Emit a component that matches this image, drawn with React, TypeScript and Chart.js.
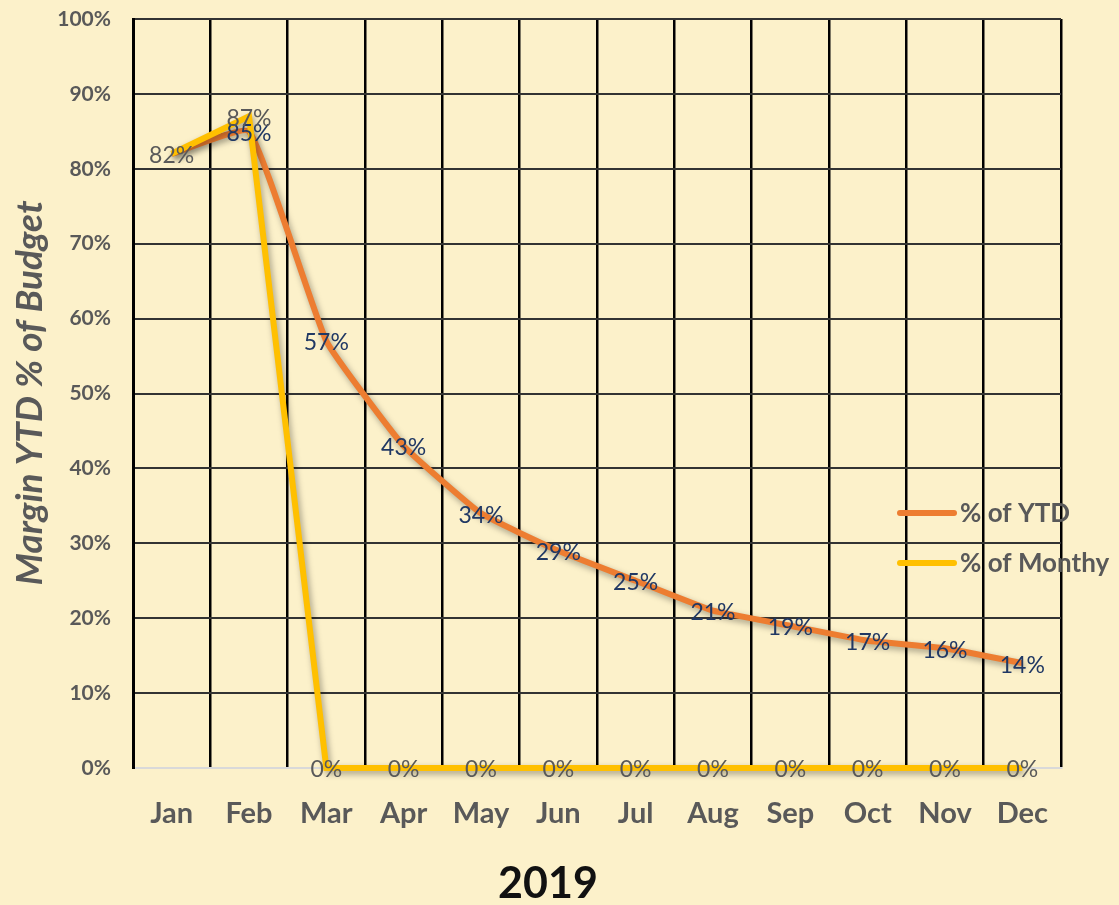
import React, { useEffect, useRef } from "react";
import { Chart, registerables } from "chart.js";

Chart.register(...registerables);

const months = ["Jan", "Feb", "Mar", "Apr", "May", "Jun", "Jul", "Aug", "Sep", "Oct", "Nov", "Dec"];
const ytdValues = [82, 85, 57, 43, 34, 29, 25, 21, 19, 17, 16, 14];
const monthlyValues = [82, 87, 0, 0, 0, 0, 0, 0, 0, 0, 0, 0];
const seriesNames = ["% of YTD", "% of Monthy"];
const yAxisTitle = "Margin YTD % of Budget";
const xAxisTitle = "2019";

const BG = "#FCF1CA";
const ORANGE = "#ED7D31";
const YELLOW = "#FFC000";
const GRAY = "#595959";
const BLUE = "#203864";
const FONT = "Lato, 'Open Sans', sans-serif";

const shadowPlugin = {
  id: "lineShadow",
  beforeDatasetDraw(chart: any) {
    const ctx = chart.ctx;
    ctx.save();
    ctx.shadowColor = "rgba(0,0,0,0.35)";
    ctx.shadowBlur = 6;
    ctx.shadowOffsetX = 2;
    ctx.shadowOffsetY = 3;
  },
  afterDatasetDraw(chart: any) {
    chart.ctx.restore();
  },
};

const labelsPlugin = {
  id: "valueLabels",
  afterDatasetsDraw(chart: any) {
    const ctx = chart.ctx;
    ctx.save();
    ctx.font = `23px ${FONT}`;
    ctx.textAlign = "center";
    ctx.textBaseline = "middle";
    const ytdMeta = chart.getDatasetMeta(0);
    const monMeta = chart.getDatasetMeta(1);
    ytdMeta.data.forEach((pt: any, i: number) => {
      if (ytdValues[i] === monthlyValues[i]) return;
      ctx.fillStyle = BLUE;
      ctx.fillText(`${ytdValues[i]}%`, pt.x, pt.y + 2);
    });
    monMeta.data.forEach((pt: any, i: number) => {
      ctx.fillStyle = GRAY;
      ctx.fillText(`${monthlyValues[i]}%`, pt.x, pt.y + 2);
    });
    ctx.restore();
  },
};

const decorPlugin = {
  id: "decor",
  beforeDraw(chart: any) {
    const ctx = chart.ctx;
    ctx.save();
    ctx.fillStyle = BG;
    ctx.fillRect(0, 0, chart.width, chart.height);
    ctx.restore();
  },
  afterDraw(chart: any) {
    const ctx = chart.ctx;
    ctx.save();
    ctx.translate(30, 393);
    ctx.rotate(-Math.PI / 2);
    ctx.font = `italic bold 37px ${FONT}`;
    ctx.fillStyle = GRAY;
    ctx.textAlign = "center";
    ctx.textBaseline = "middle";
    ctx.fillText(yAxisTitle, 0, 0);
    ctx.restore();

    ctx.save();
    ctx.font = `bold 43px ${FONT}`;
    ctx.fillStyle = "#111";
    ctx.textAlign = "center";
    ctx.textBaseline = "middle";
    ctx.fillText(xAxisTitle, 548, 884);
    ctx.restore();

    ctx.save();
    const colors = [ORANGE, YELLOW];
    const lx = 900;
    const ly = [513, 563];
    colors.forEach((c, i) => {
      ctx.strokeStyle = c;
      ctx.lineWidth = 6;
      ctx.lineCap = "round";
      ctx.beginPath();
      ctx.moveTo(lx, ly[i]);
      ctx.lineTo(lx + 54, ly[i]);
      ctx.stroke();
      ctx.font = `bold 26px ${FONT}`;
      ctx.fillStyle = GRAY;
      ctx.textAlign = "left";
      ctx.textBaseline = "middle";
      ctx.fillText(seriesNames[i], lx + 60, ly[i] + 1);
    });
    ctx.restore();
  },
};

export default function App() {
  const ref = useRef<HTMLCanvasElement | null>(null);
  useEffect(() => {
    document.body.style.margin = "0";
    document.body.style.background = BG;
    const chart = new Chart(ref.current as HTMLCanvasElement, {
      type: "line",
      data: {
        labels: months,
        datasets: [
          {
            label: seriesNames[0],
            data: ytdValues,
            borderColor: ORANGE,
            backgroundColor: ORANGE,
            borderWidth: 6,
            pointRadius: 0,
            tension: 0.12,
            clip: false,
            order: 1,
          },
          {
            label: seriesNames[1],
            data: monthlyValues,
            borderColor: YELLOW,
            backgroundColor: YELLOW,
            borderWidth: 6,
            pointRadius: 0,
            tension: 0,
            clip: false,
            order: 0,
          },
        ],
      },
      options: {
        animation: false,
        responsive: false,
        layout: { padding: { top: 19, right: 58, left: 0, bottom: 0 } },
        plugins: { legend: { display: false }, tooltip: { enabled: false } },
        scales: {
          x: {
            type: "category",
            offset: true,
            grid: { offset: true, color: "#000", lineWidth: 2.5, drawTicks: false },
            border: { display: true, color: "#D9D9D9", width: 2 },
            ticks: {
              padding: 28,
              color: GRAY,
              font: { family: FONT, size: 29, weight: "bold" },
            },
            afterFit(scale: any) {
              scale.height = 137;
              scale.paddingLeft = 0;
              scale.paddingRight = 0;
            },
          },
          y: {
            min: 0,
            max: 100,
            ticks: {
              stepSize: 10,
              padding: 22,
              color: GRAY,
              font: { family: FONT, size: 21, weight: "bold" },
              callback: (v: any) => `${v}%`,
            },
            grid: {
              color: (c: any) => (c.tick && c.tick.value === 0 ? "rgba(0,0,0,0)" : "#333"),
              lineWidth: 2,
              drawTicks: false,
            },
            border: { display: true, color: "#000", width: 3 },
            afterFit(scale: any) {
              scale.width = 133;
              scale.paddingTop = 0;
              scale.paddingBottom = 0;
            },
          },
        },
      } as any,
      plugins: [decorPlugin, shadowPlugin, labelsPlugin],
    });
    return () => chart.destroy();
  }, []);
  return (
    <div style={{ width: 1119, height: 905, background: BG }}>
      <canvas ref={ref} width={1119} height={905} style={{ display: "block", width: 1119, height: 905 }} />
    </div>
  );
}
